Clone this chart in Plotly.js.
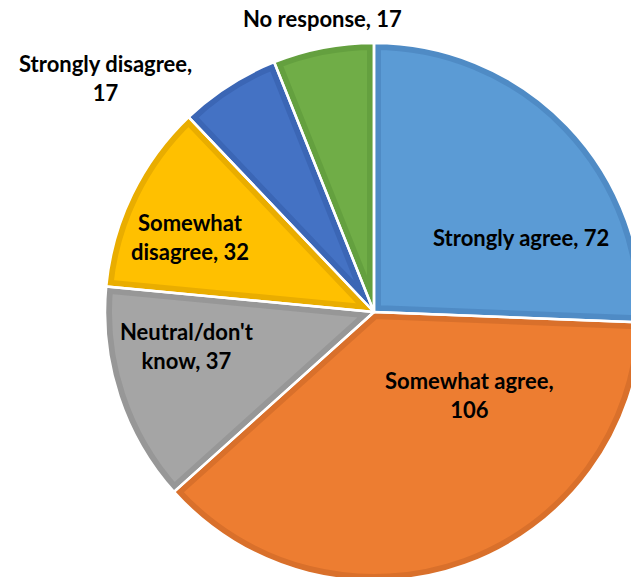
<!DOCTYPE html>
<html><head><meta charset="utf-8">
<script src="https://cdn.plot.ly/plotly-3.0.1.min.js"></script>
<style>html,body{margin:0;padding:0;overflow:hidden;background:#fff}#chart{width:760px;height:640px}</style>
</head><body><div id="chart"></div>
<script>
const categories = ["Strongly agree","Somewhat agree","Neutral/don't know","Somewhat disagree","Strongly disagree","No response"];
const values = [72,106,37,32,17,17];
const labelTexts = ["Strongly agree, 72","Somewhat agree,<br>106","Neutral/don't<br>know, 37","Somewhat<br>disagree, 32","Strongly disagree,<br>17","No response, 17"];
const fillColors = ["#5B9BD5","#ED7D31","#A5A5A5","#FFC000","#4472C4","#70AD47"];
const edgeColors = ["#4F8BC5","#D9702B","#979797","#E9AD00","#3B66B5","#64A03F"];
const labelPos = [[521,237],[469,395],[187,346],[190,237],[105,78],[322,19]];

const W=760,H=640,cx=374,cy=312,R=269;
const dom={x:[(cx-R)/W,(cx+R)/W],y:[1-(cy+R)/H,1-(cy-R)/H]};
const trace={type:'pie',labels:categories,values:values,sort:false,direction:'clockwise',rotation:0,textinfo:'none',hoverinfo:'label+value',domain:dom,showlegend:false,
  marker:{colors:fillColors,line:{color:'#ffffff',width:0}}};
const annotations=labelTexts.map((t,i)=>({x:labelPos[i][0]/W,y:1-labelPos[i][1]/H,xref:'paper',yref:'paper',text:t,showarrow:false,xanchor:'center',yanchor:'middle',align:'center',font:{family:'Lato, sans-serif',size:22,color:'#000',weight:'bold'}}));
Plotly.newPlot('chart',[trace],{width:W,height:H,margin:{l:0,r:0,t:0,b:0},paper_bgcolor:'#fff',annotations:annotations},{displayModeBar:false,staticPlot:true}).then(gd=>{
  const NS='http://www.w3.org/2000/svg';
  const svg=gd.querySelector('svg.main-svg');
  let defs=svg.querySelector('defs'); if(!defs){defs=document.createElementNS(NS,'defs');svg.insertBefore(defs,svg.firstChild);}
  const paths=[...gd.querySelectorAll('g.slice path.surface')];
  const layer=paths[0].parentNode.parentNode;
  const bands=document.createElementNS(NS,'g'), seps=document.createElementNS(NS,'g');
  paths.forEach((p,i)=>{
    const d=p.getAttribute('d'), tf=p.parentNode.getAttribute('transform')||'';
    const cp=document.createElementNS(NS,'clipPath'); cp.setAttribute('id','slc'+i);
    const cpp=document.createElementNS(NS,'path'); cpp.setAttribute('d',d); cpp.setAttribute('transform',tf); cp.appendChild(cpp); defs.appendChild(cp);
    const g=document.createElementNS(NS,'g'); g.setAttribute('clip-path','url(#slc'+i+')');
    const b=document.createElementNS(NS,'path'); b.setAttribute('d',d); b.setAttribute('transform',tf);
    b.setAttribute('style','fill:none;stroke:'+edgeColors[i]+';stroke-width:14px;stroke-linejoin:miter');
    g.appendChild(b); bands.appendChild(g);
    const s=document.createElementNS(NS,'path'); s.setAttribute('d',d); s.setAttribute('transform',tf);
    s.setAttribute('style','fill:none;stroke:#ffffff;stroke-width:2.5px;stroke-linejoin:round');
    seps.appendChild(s);
  });
  layer.appendChild(bands); layer.appendChild(seps);
});
</script></body></html>
